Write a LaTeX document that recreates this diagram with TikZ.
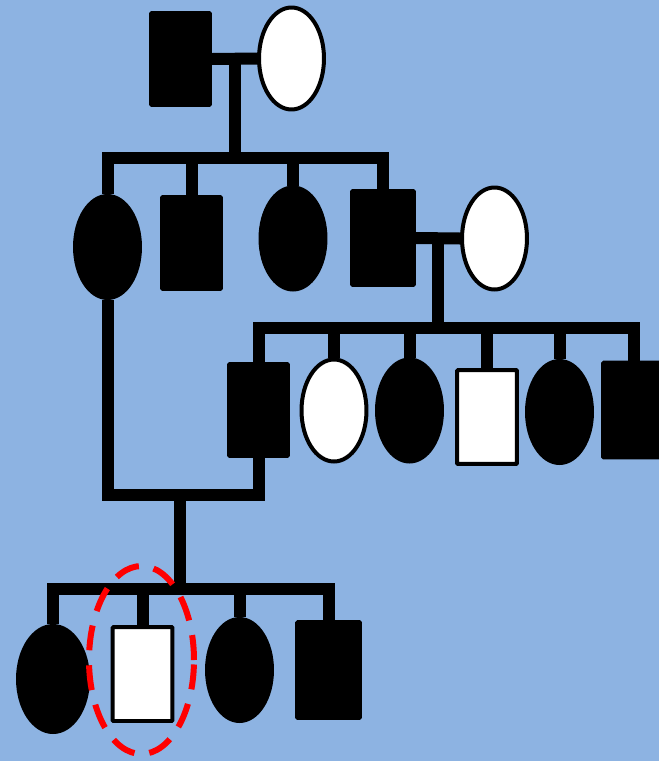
\documentclass[tikz,border=0pt]{standalone}
\usetikzlibrary{shapes.geometric,calc}
\definecolor{bgblue}{RGB}{141,179,226}
\definecolor{ringred}{RGB}{255,0,0}
\tikzset{
  sq/.style={rectangle, draw=black, line width=0.08cm, inner sep=0pt,
    minimum width=1.18cm, minimum height=1.84cm, rounded corners=0.6pt},
  affsq/.style={sq, fill=black},
  unsq/.style={sq, fill=white},
  ov/.style={ellipse, draw=black, line width=0.08cm, inner sep=0pt,
    minimum width=1.3cm, minimum height=2.04cm},
  affov/.style={ov, fill=black},
  unov/.style={ov, fill=white},
  link/.style={line width=0.24cm, line join=miter},
}
\begin{document}
\begin{tikzpicture}[x=0.02cm,y=-0.02cm]
\fill[bgblue] (0,0) rectangle (659,761);
\useasboundingbox (0,0) rectangle (659,761);
\clip (0,0) rectangle (659,761);

% generation I
\node[affsq] (i1) at (180.5,59) {};
\node[unov] (i2) at (291.5,58.5) {};

% generation II
\node[affov] (ii1) at (107.5,247) {};
\node[affsq] (ii2) at (191.5,243) {};
\node[affov] (ii3) at (293,238.5) {};
\node[affsq, minimum width=1.24cm, minimum height=1.88cm] (ii4) at (383,238) {};
\node[unov] (ii5) at (494.5,238.5) {};

% generation III
\node[affsq] (iii1) at (258.5,410) {};
\node[unov] (iii2) at (334,410.5) {};
\node[affov] (iii3) at (409.5,410.5) {};
\node[unsq, minimum width=1.2cm, minimum height=1.88cm] (iii4) at (487,417) {};
\node[affov] (iii5) at (559.5,412) {};
\node[affsq, minimum width=1.24cm, minimum height=1.9cm] (iii6) at (634,410) {};

% generation IV
\node[affov, minimum width=1.4cm, minimum height=2.12cm] (iv1) at (53,679) {};
\node[unsq, minimum width=1.2cm, minimum height=1.88cm] (iv2) at (142.5,674) {};
\node[affov] (iv3) at (239.5,670) {};
\node[affsq, minimum width=1.26cm, minimum height=1.92cm] (iv4) at (328.5,670) {};

% sibship and marriage levels
\coordinate (s2) at (0,158);
\coordinate (s3) at (0,328);
\coordinate (m3) at (0,495);
\coordinate (s4) at (0,589);

% couple I and their children
\draw[link] (i1.east) -- (i2.west);
\coordinate (d1) at ($(i1.east)!0.5!(i2.west)$);
\draw[link] (d1) -- (d1 |- s2);
\draw[link] (ii1.north) |- (s2 -| ii4.north) -- (ii4.north);
\draw[link] (ii2.north) -- (ii2.north |- s2);
\draw[link] (ii3.north) -- (ii3.north |- s2);

% couple II and their children
\draw[link] (ii4.east) -- (ii5.west);
\coordinate (d2) at ($(ii4.east)!0.5!(ii5.west)$);
\draw[link] (d2) -- (d2 |- s3);
\draw[link] (iii1.north) |- (s3 -| iii6.north) -- (iii6.north);
\draw[link] (iii2.north) -- (iii2.north |- s3);
\draw[link] (iii3.north) -- (iii3.north |- s3);
\draw[link] (iii4.north) -- (iii4.north |- s3);
\draw[link] (iii5.north) -- (iii5.north |- s3);

% cousin marriage and their children
\draw[link] (ii1.south) |- (m3 -| iii1.south) -- (iii1.south);
\coordinate (d3) at (180,495);
\draw[link] (d3) -- (d3 |- s4);
\draw[link] (iv1.north) |- (s4 -| iv4.north) -- (iv4.north);
\draw[link] (iv2.north) -- (iv2.north |- s4);
\draw[link] (iv3.north) -- (iv3.north |- s4);

% proband
\node[ellipse, draw=ringred, line width=0.12cm, dash pattern=on 0.5cm off 0.3cm,
  inner sep=0pt, minimum width=2.1cm, minimum height=3.76cm] (ring) at (141.5,660) {};
\end{tikzpicture}
\end{document}
